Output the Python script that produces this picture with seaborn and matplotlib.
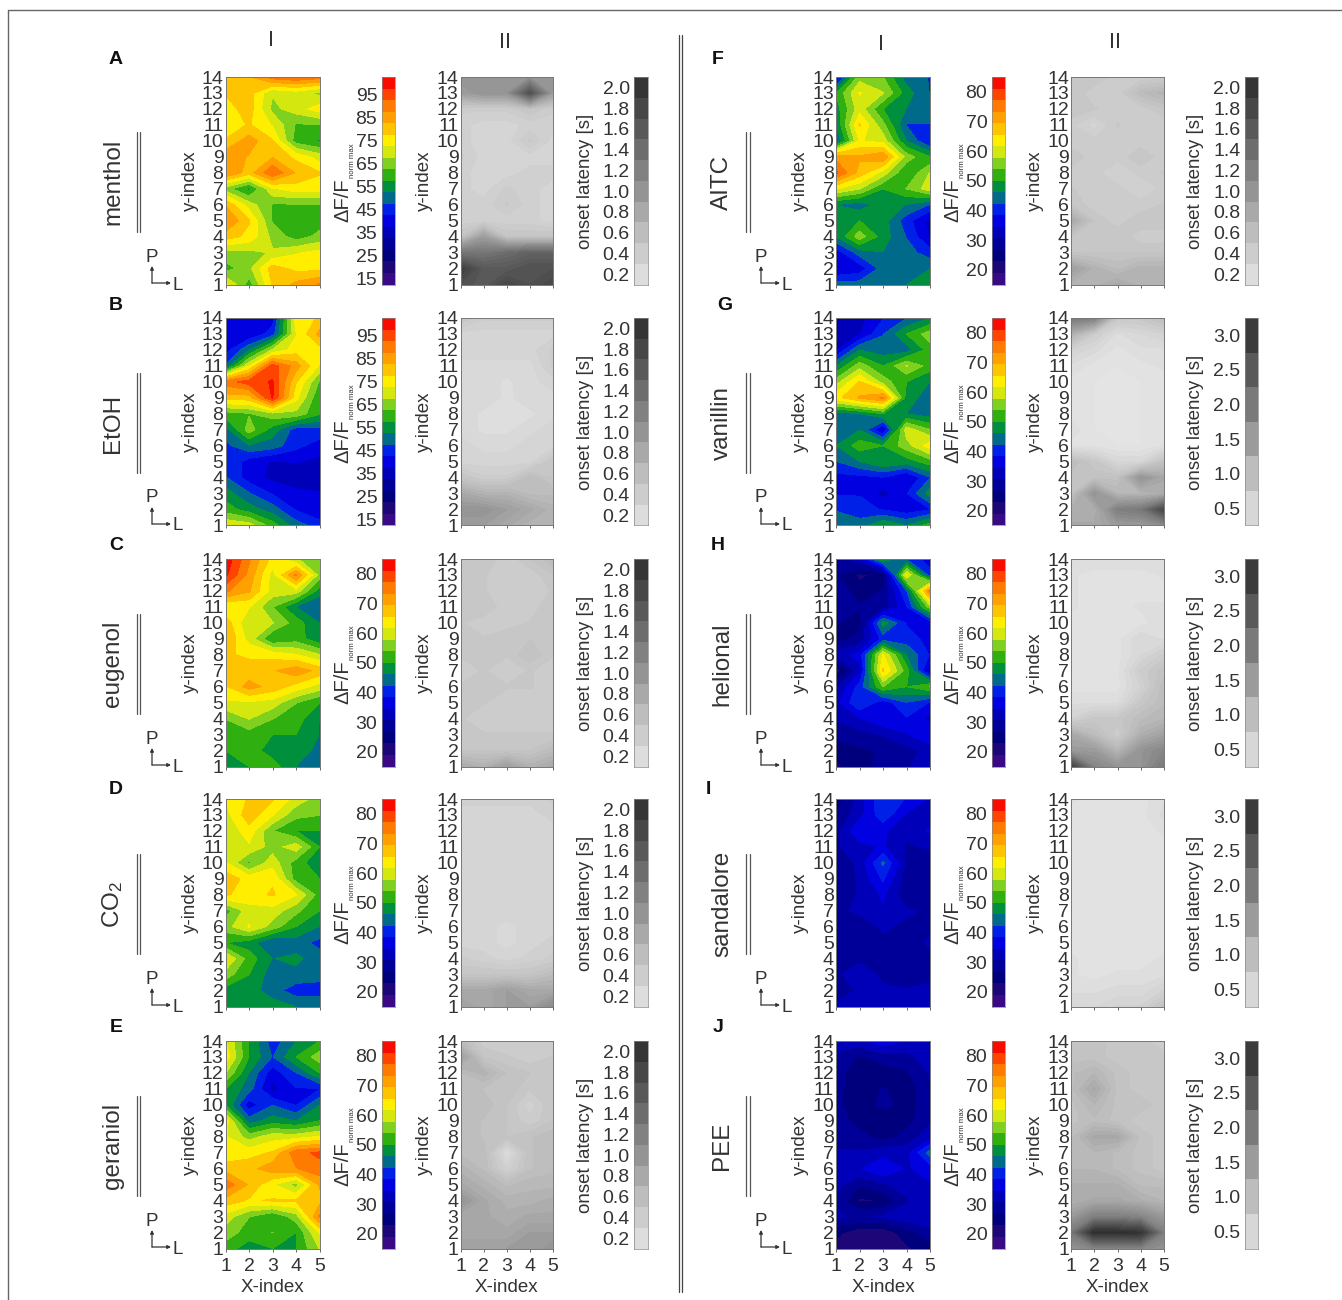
import numpy as np
import matplotlib
matplotlib.use("Agg")
import matplotlib.pyplot as plt
from matplotlib.colors import ListedColormap, BoundaryNorm
from matplotlib.lines import Line2D
from matplotlib.patches import FancyArrowPatch
import seaborn as sns

W, H = 1342, 1300
sns.set_theme(style="ticks")
plt.rcParams["font.family"] = ["Liberation Sans", "DejaVu Sans"]
plt.rcParams["mathtext.fontset"] = "custom"
plt.rcParams["mathtext.rm"] = "Liberation Sans"
plt.rcParams["mathtext.it"] = "Liberation Sans"
plt.rcParams["mathtext.bf"] = "Liberation Sans:bold"
plt.rcParams["mathtext.default"] = "regular"

# ---- data: rows run from y-index 14 (top) to y-index 1 (bottom), columns x-index 1..5
x_index = [1, 2, 3, 4, 5]
y_index = list(range(14, 0, -1))

menthol_I = [[80,82,90,92,90],[78,80,68,70,66],[75,80,66,70,75],[74,78,72,62,62],[78,85,78,60,57],
             [86,82,82,76,70],[88,80,92,82,78],[65,56,72,75,75],[82,70,62,62,62],[88,78,62,60,60],
             [80,76,66,60,64],[66,66,68,72,74],[60,66,80,76,76],[74,60,78,84,88]]
etoh_I = [[38,38,40,75,78],[38,38,45,72,84],[40,52,68,75,75],[48,72,95,85,72],[90,95,98,78,62],
          [80,80,98,74,58],[60,62,66,66,58],[50,65,55,45,46],[46,52,50,44,40],[48,40,37,38,36],
          [48,40,36,32,33],[55,48,42,40,38],[60,55,50,42,38],[72,70,60,50,45]]
eugenol_I = [[84,74,64,58,56],[82,72,60,74,56],[74,70,60,60,48],[62,62,54,46,42],[68,58,58,52,46],
             [70,60,50,52,47],[66,65,64,62,58],[67,67,69,72,68],[65,71,68,64,60],[61,61,60,54,50],
             [54,58,54,52,46],[50,52,50,50,46],[50,52,48,50,44],[48,50,52,46,43]]
co2_I = [[62,66,66,60,56],[60,68,62,55,54],[58,64,54,50,50],[58,61,56,60,50],[62,53,60,52,47],
         [68,64,65,52,50],[66,64,66,62,52],[52,60,60,55,50],[56,62,56,50,46],[50,48,42,44,41],
         [62,52,46,47,44],[56,50,44,45,44],[48,48,44,40,40],[48,48,48,46,46]]
geraniol_I = [[62,50,40,46,50],[64,50,42,50,56],[58,46,36,42,50],[50,44,33,38,38],[50,36,42,38,46],
              [64,44,48,46,50],[62,56,60,60,62],[62,64,66,76,78],[68,68,72,73,76],[76,69,62,56,70],
              [68,65,66,66,68],[60,54,50,56,74],[56,52,54,50,62],[52,48,50,50,58]]
aitc_I = [[34,56,54,44,42],[50,62,58,48,42],[48,60,50,46,44],[46,66,55,42,42],[42,62,60,46,38],
          [72,70,73,56,50],[78,68,60,50,58],[62,58,50,54,60],[46,44,48,46,42],[48,50,48,40,33],
          [46,56,48,42,34],[36,44,46,44,40],[34,36,44,44,46],[44,44,46,46,50]]
vanillin_I = [[33,33,38,42,46],[30,34,42,50,56],[34,46,44,44,52],[46,56,50,58,52],[56,66,56,50,46],
              [64,70,74,48,44],[44,46,50,46,44],[46,46,34,60,54],[46,52,50,56,64],[42,46,50,48,52],
              [37,37,38,34,42],[38,38,33,38,48],[42,40,38,36,38],[44,44,50,46,52]]
helional_I = [[28,33,50,42,36],[27,22,24,62,40],[30,24,27,42,75],[30,27,28,38,56],[27,25,48,38,36],
              [25,28,40,40,37],[32,36,62,46,38],[20,33,66,52,32],[30,40,54,50,54],[33,42,36,42,38],
              [31,34,38,38,33],[28,29,31,34,38],[24,26,27,29,32],[22,25,28,30,33]]
sandalore_I = [[24,32,42,38,34],[27,33,41,34,33],[29,38,35,32,35],[30,33,35,30,31],[26,32,43,30,28],
               [28,31,39,28,28],[28,31,35,28,28],[30,31,34,31,30],[29,29,31,30,30],[28,28,30,29,31],
               [30,30,30,29,30],[30,32,30,27,29],[29,31,31,31,32],[31,32,32,33,34]]
pee_I = [[32,33,37,34,34],[30,26,29,29,33],[29,23,24,26,31],[28,24,27,24,30],[28,23,28,25,29],
         [29,25,23,25,30],[29,28,25,28,33],[31,31,33,33,44],[32,34,38,34,36],[32,27,30,32,34],
         [30,22,23,30,34],[31,30,31,33,34],[24,20,20,25,29],[21,19,19,22,25]]

menthol_II = [[1.0,1.0,1.0,1.0,1.0],[.9,1.0,1.0,1.7,.9],[.4,.4,.4,.5,.4],[.35,.3,.3,.35,.35],[.35,.3,.3,.45,.3],
              [.4,.3,.3,.3,.3],[.35,.3,.3,.35,.35],[.35,.3,.4,.35,.3],[.35,.35,.45,.35,.3],[.35,.35,.35,.35,.3],
              [.5,.9,.5,.5,.5],[1.3,1.3,1.4,1.5,1.5],[1.9,1.6,1.6,1.7,1.7],[1.7,1.6,1.8,1.7,1.8]]
etoh_II = [[.5,.4,.4,.4,.4],[.3,.3,.3,.3,.3],[.3,.3,.3,.3,.4],[.25,.25,.25,.25,.4],[.25,.25,.2,.25,.3],
           [.25,.25,.2,.25,.25],[.25,.2,.2,.2,.25],[.25,.2,.2,.25,.3],[.3,.25,.25,.3,.3],[.3,.3,.3,.3,.5],
           [.5,.4,.4,.6,.5],[.8,.7,.7,.6,.6],[1.0,1.0,.9,.8,.7],[.9,.9,.8,.7,.7]]
eugenol_II = [[.5,.5,.4,.5,.6],[.45,.45,.4,.4,.5],[.45,.45,.4,.4,.45],[.45,.5,.4,.4,.5],[.45,.4,.4,.45,.5],
              [.45,.45,.5,.5,.45],[.45,.45,.45,.55,.45],[.4,.45,.4,.45,.4],[.45,.5,.45,.45,.4],[.45,.45,.4,.4,.4],
              [.45,.4,.4,.4,.4],[.45,.45,.45,.45,.45],[.5,.5,.5,.5,.6],[.8,.7,.9,.7,.8]]
co2_II = [[.35,.35,.35,.35,.4],[.3,.3,.3,.3,.35],[.3,.3,.3,.3,.3],[.3,.3,.3,.3,.3],[.3,.3,.3,.3,.3],
          [.3,.3,.3,.3,.3],[.3,.3,.3,.3,.3],[.3,.3,.3,.3,.3],[.3,.3,.25,.3,.3],[.3,.3,.25,.3,.35],
          [.4,.35,.3,.35,.4],[.5,.5,.5,.5,.6],[.8,.8,.9,.8,.8],[.9,.8,.9,.9,1.1]]
geraniol_II = [[.6,.4,.4,.4,.4],[.9,.5,.45,.4,.45],[.6,.7,.55,.5,.5],[.6,.55,.55,.45,.5],[.6,.6,.5,.35,.5],
               [.6,.55,.5,.4,.5],[.6,.55,.5,.55,.6],[.6,.6,.2,.55,.6],[.7,.6,.35,.55,.6],[.8,.7,.6,.65,.65],
               [1.0,.8,.7,.7,.75],[.8,.8,.75,.8,.8],[.8,.8,.8,.9,.9],[.9,.9,.9,.9,1.0]]
aitc_II = [[.5,.5,.4,.4,.4],[.5,.4,.4,.6,.7],[.5,.45,.4,.4,.5],[.4,.3,.45,.4,.4],[.4,.4,.4,.4,.4],
           [.5,.4,.4,.5,.4],[.4,.4,.35,.4,.45],[.45,.4,.4,.35,.4],[.5,.4,.4,.4,.45],[.8,.5,.4,.5,.5],
           [.5,.5,.5,.4,.4],[.5,.5,.5,.5,.5],[.9,.7,.6,.7,.7],[.7,.7,.8,.7,.7]]
vanillin_II = [[2.0,1.9,.8,.8,1.0],[1.2,.7,.4,.5,.6],[.6,.45,.3,.4,.4],[.4,.3,.25,.3,.35],[.3,.25,.2,.25,.3],
               [.3,.25,.2,.25,.3],[.3,.25,.2,.25,.3],[.4,.25,.2,.25,.3],[.3,.3,.25,.25,.35],[1.0,.8,.5,.5,.9],
               [.9,.9,.9,1.6,1.3],[.9,1.6,1.1,1.1,1.2],[1.2,1.2,1.9,2.0,2.8],[1.3,1.3,1.5,1.5,1.7]]
helional_II = [[.4,.4,.4,.4,.4],[.35,.3,.3,.3,.35],[.35,.3,.3,.3,.3],[.35,.3,.3,.35,.35],[.3,.3,.3,.3,.4],
               [.3,.3,.3,.5,.4],[.3,.3,.3,.5,.7],[.3,.3,.3,.7,.9],[.3,.3,.3,.6,1.0],[.4,.4,.4,.8,1.0],
               [.6,.8,.8,1.0,1.1],[1.3,1.0,.7,1.2,1.4],[1.5,1.5,1.1,1.6,1.8],[2.9,1.8,1.6,1.6,2.0]]
sandalore_II = [[.35,.3,.3,.3,.4],[.3,.3,.3,.3,.45],[.3,.3,.3,.3,.35],[.3,.3,.3,.3,.3],[.3,.3,.3,.3,.3],
                [.3,.3,.3,.3,.3],[.3,.3,.3,.3,.3],[.3,.3,.3,.3,.3],[.3,.3,.3,.3,.3],[.3,.3,.3,.3,.3],
                [.35,.3,.3,.3,.35],[.35,.3,.35,.35,.4],[.4,.4,.45,.45,.6],[.5,.5,.6,.6,.9]]
pee_II = [[.9,.9,.8,.8,.7],[.9,.9,.8,.8,.8],[1.0,1.1,.9,.8,.8],[1.0,1.3,.9,.8,.8],[.9,1.1,.9,.9,.8],
          [.9,1.0,.9,.8,.8],[1.0,1.3,1.3,.9,.8],[1.1,1.1,1.0,.9,.8],[1.1,1.1,1.0,.9,.8],[1.2,1.2,1.2,1.0,1.0],
          [1.2,1.3,1.3,1.2,1.1],[1.5,1.9,1.9,1.8,1.5],[2.0,3.2,3.2,3.1,1.9],[1.6,1.8,1.8,1.8,1.6]]

left_names = ["menthol", "EtOH", "eugenol", "CO$_2$", "geraniol"]
right_names = ["AITC", "vanillin", "helional", "sandalore", "PEE"]
left_letters = ["A", "B", "C", "D", "E"]
right_letters = ["F", "G", "H", "I", "J"]
left_I = [menthol_I, etoh_I, eugenol_I, co2_I, geraniol_I]
right_I = [aitc_I, vanillin_I, helional_I, sandalore_I, pee_I]
left_II = [menthol_II, etoh_II, eugenol_II, co2_II, geraniol_II]
right_II = [aitc_II, vanillin_II, helional_II, sandalore_II, pee_II]
left_heat_range = [(12.5, 102.5), (12.5, 102.5), (15, 85), (15, 85), (15, 85)]
left_heat_ticks = [list(range(15, 100, 10))] * 2 + [list(range(20, 90, 10))] * 3
right_heat_range = [(15, 85)] * 5
right_heat_ticks = [list(range(20, 90, 10))] * 5
short_ticks = [round(0.2 * i, 1) for i in range(1, 11)]
long_ticks = [0.5, 1.0, 1.5, 2.0, 2.5, 3.0]
left_grey = [((0.1, 2.1), 10, short_ticks)] * 5
right_grey = [((0.1, 2.1), 10, short_ticks)] + [((0.25, 3.25), 6, long_ticks)] * 4

rainbow_colors = ["#3a0a85", "#1c0678", "#00007c", "#000098", "#0000b8", "#0000e0", "#0020e8", "#006a8a",
                  "#008f3c", "#30b010", "#80d020", "#d4e810", "#ffee00", "#ffc400", "#ffa000", "#ff7a00",
                  "#ff4400", "#f80c00"]
rainbow = sns.color_palette(rainbow_colors, as_cmap=False)
rainbow_cmap = ListedColormap(rainbow)
grey_cmap = sns.blend_palette(["#e4e4e4", "#bdbdbd", "#8a8a8a", "#5a5a5a", "#2c2c2c"], n_colors=64, as_cmap=True)

TXT = "#333333"
TS = 14
LS = 13.5
rows_top = [77, 318, 559, 799, 1041]
ROW_H = 207.5


def rect(x0, x1, y0, y1):
    return [x0 / W, 1 - y1 / H, (x1 - x0) / W, (y1 - y0) / H]


def t(x, y, s, **kw):
    kw.setdefault("ha", "center")
    kw.setdefault("va", "center")
    kw.setdefault("color", TXT)
    fig.text(x / W, 1 - y / H, s, **kw)


def line(xs, ys, **kw):
    kw.setdefault("color", "#444444")
    kw.setdefault("lw", 1.0)
    fig.add_artist(Line2D([v / W for v in xs], [1 - v / H for v in ys], **kw))


def field(box, grid, vmin, vmax, levels, cmap, bottom):
    ax = fig.add_axes(box)
    z = np.array(grid, dtype=float)
    ax.contourf(x_index, y_index, z, levels=levels, cmap=cmap,
                norm=BoundaryNorm(levels, cmap.N) if cmap is rainbow_cmap else plt.Normalize(vmin, vmax),
                extend="both")
    ax.set_xlim(1, 5)
    ax.set_ylim(1, 14)
    ax.set_yticks(range(1, 15))
    ax.set_xticks(x_index)
    ax.tick_params(axis="y", length=0, pad=1.5, labelsize=TS, labelcolor=TXT)
    ax.tick_params(axis="x", length=2, width=0.7, color="#666666", pad=5, labelsize=TS, labelcolor=TXT,
                   labelbottom=bottom)
    for s in ax.spines.values():
        s.set_linewidth(0.7)
        s.set_color("#777777")
    return ax


def bar(box, vmin, vmax, n, cmap, ticks):
    cax = fig.add_axes(box)
    edges = np.linspace(vmin, vmax, n + 1)
    centers = (edges[:-1] + edges[1:]) / 2
    sns.heatmap(centers[:, None], ax=cax, cmap=cmap, vmin=vmin, vmax=vmax, cbar=False,
                xticklabels=False, yticklabels=False)
    cax.set_ylim(0, n)
    step = (vmax - vmin) / n
    cax.set_yticks([(v - vmin) / step for v in ticks])
    cax.set_yticklabels([f"{v:.1f}" if isinstance(v, float) else str(v) for v in ticks], fontsize=TS, color=TXT)
    cax.tick_params(axis="y", length=0, pad=3)
    cax.tick_params(axis="x", length=0)
    for s in cax.spines.values():
        s.set_visible(True)
        s.set_linewidth(0.5)
        s.set_color("#888888")
    return cax


fig = plt.figure(figsize=(W / 100, H / 100), dpi=100, facecolor="white")

columns = [
    dict(heat=(225.5, 319.5), hbar=(381.5, 395), grey=(460.5, 553), gbar=(634, 647.5),
         names=left_names, letters=left_letters, letter_x=[116] * 5, I=left_I, II=left_II,
         hr=left_heat_range, ht=left_heat_ticks, gr=left_grey, ylab1=190, ylab2=424, cb1=343, cb2=585,
         name_x=113, dbl=136.5, px=152),
    dict(heat=(836, 930), hbar=(991.5, 1005), grey=(1071, 1164), gbar=(1244.5, 1258),
         names=right_names, letters=right_letters, letter_x=[718, 725, 718, 708, 718], I=right_I, II=right_II,
         hr=right_heat_range, ht=right_heat_ticks, gr=right_grey, ylab1=800, ylab2=1035, cb1=953, cb2=1195,
         name_x=722, dbl=746.5, px=761),
]

letter_y = [59, 305, 546, 789, 1027]
for col in columns:
    for i, top in enumerate(rows_top):
        y0, y1 = top, top + ROW_H
        bottom = i == 4
        vmin, vmax = col["hr"][i]
        levels = np.linspace(vmin, vmax, 19)
        field(rect(*col["heat"], y0, y1), col["I"][i], vmin, vmax, levels, rainbow_cmap, bottom)
        bar(rect(*col["hbar"], y0, y1), vmin, vmax, 18, rainbow_cmap, col["ht"][i])
        (gmin, gmax), gn, gticks = col["gr"][i]
        glevels = np.linspace(gmin, gmax, 36)
        field(rect(*col["grey"], y0, y1), col["II"][i], gmin, gmax, glevels, grey_cmap, bottom)
        bar(rect(*col["gbar"], y0, y1), gmin, gmax, gn, grey_cmap, gticks)

        t(col["ylab1"], top + 104, "y-index", rotation=90, fontsize=LS)
        t(col["ylab2"], top + 104, "y-index", rotation=90, fontsize=LS)
        t(col["cb1"], top + 145, "\u0394F/F", rotation=90, fontsize=14.5, va="bottom")
        t(col["cb1"] + 9.5, top + 101, "norm max", rotation=90, fontsize=5.6, va="bottom")
        t(col["cb2"], top + 104, "onset latency [s]", rotation=90, fontsize=LS)
        t(col["name_x"], top + 105, col["names"][i], rotation=90, fontsize=17.5)
        t(col["letter_x"][i], letter_y[i], col["letters"][i], fontsize=14, fontweight="bold", color="#111111")
        for off in (0, 3):
            line([col["dbl"] + off] * 2, [top + 55, top + 155], color="#555555", lw=0.9)
        px = col["px"]
        t(px, top + 180, "P", fontsize=13.5)
        t(px + 26, top + 208, "L", fontsize=13.5)
        fig.add_artist(FancyArrowPatch(
            (px / W, 1 - (top + 206) / H), (px / W, 1 - (top + 189) / H), transform=fig.transFigure,
            arrowstyle="-|>", mutation_scale=5, lw=0.9, color="#333333", shrinkA=0, shrinkB=0))
        fig.add_artist(FancyArrowPatch(
            (px / W, 1 - (top + 206) / H), ((px + 19) / W, 1 - (top + 206) / H), transform=fig.transFigure,
            arrowstyle="-|>", mutation_scale=5, lw=0.9, color="#333333", shrinkA=0, shrinkB=0))
    t(sum(col["heat"]) / 2, 1287, "X-index", fontsize=LS)
    t(sum(col["grey"]) / 2, 1287, "X-index", fontsize=LS)

t(271, 41, "I", fontsize=15.5)
t(505, 42, "II", fontsize=15.5)
t(881, 45, "I", fontsize=15.5)
t(1115, 43, "II", fontsize=15.5)

for x in (679, 681.5):
    line([x, x], [35, 1292], color="#444444", lw=0.9)
line([8, 8, W], [H, 10, 10], color="#666666", lw=1.0)

fig.savefig("out.png", dpi=100, facecolor="white")
